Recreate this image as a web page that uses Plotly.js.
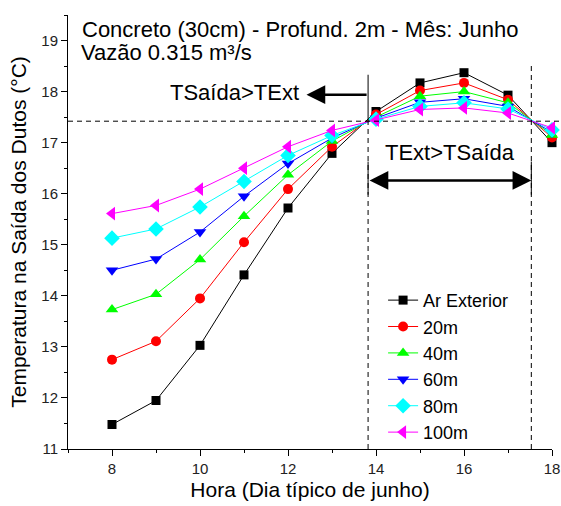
<!DOCTYPE html>
<html>
<head>
<meta charset="utf-8">
<script src="https://cdn.plot.ly/plotly-3.0.1.min.js"></script>
<style>html,body{margin:0;padding:0;background:#fff}#chart{width:561px;height:506px}</style>
</head>
<body>
<div id="chart"></div>
<script>
var hours = [8, 9, 10, 11, 12, 13, 14, 15, 16, 17, 18];
var seriesNames = ["Ar Exterior", "20m", "40m", "60m", "80m", "100m"];
var arExterior = [11.48, 11.95, 13.03, 14.41, 15.72, 16.79, 17.61, 18.17, 18.37, 17.93, 17.00];
var t20m  = [12.75, 13.11, 13.95, 15.05, 16.09, 16.92, 17.55, 18.02, 18.17, 17.84, 17.10];
var t40m  = [13.73, 14.03, 14.71, 15.56, 16.37, 17.03, 17.50, 17.91, 18.00, 17.78, 17.15];
var t60m  = [14.50, 14.72, 15.25, 15.95, 16.59, 17.09, 17.48, 17.79, 17.86, 17.71, 17.20];
var t80m  = [15.13, 15.31, 15.74, 16.24, 16.75, 17.14, 17.46, 17.71, 17.78, 17.66, 17.25];
var t100m = [15.61, 15.77, 16.09, 16.50, 16.92, 17.24, 17.44, 17.65, 17.68, 17.58, 17.29];
var allSeries = [arExterior, t20m, t40m, t60m, t80m, t100m];
var colors = ["#000000", "#ff0000", "#00ff00", "#0000ff", "#00ffff", "#ff00ff"];
var symbols = ["square", "circle", "triangle-up", "triangle-down", "diamond", "triangle-left"];
var sizes = [9, 10, 11, 11, 12, 12];

var xTickVals = [8, 10, 12, 14, 16, 18];
var yTickVals = [11, 12, 13, 14, 15, 16, 17, 18, 19];

var titleLine1 = "Concreto (30cm) - Profund. 2m - Mês: Junho";
var titleLine2 = "Vazão 0.315 m³/s";

// reference lines / regions (hours, °C)
var crossTemp = 17.42;
var crossHourStart = 13.82;
var crossHourEnd = 17.53;

var traces = allSeries.map(function (vals, i) {
  return {
    x: hours, y: vals, name: seriesNames[i], type: "scatter", mode: "lines+markers",
    line: {color: colors[i], width: 1},
    marker: {symbol: symbols[i], size: sizes[i], color: colors[i], line: {width: 0}},
    cliponaxis: false
  };
});

var FONT = "Liberation Sans, Arial, sans-serif";
var DASH = "5px,4px";

var layout = {
  width: 561, height: 506,
  margin: {l: 68, r: 9, t: 15, b: 57},
  paper_bgcolor: "#ffffff", plot_bgcolor: "#ffffff",
  font: {family: FONT, color: "#000"},
  showlegend: true,
  title: {
    text: titleLine1,
    x: 82 / 561, xanchor: "left", xref: "container",
    y: 1 - 29 / 506, yanchor: "middle", yref: "container",
    font: {size: 22, family: FONT, color: "#000"}
  },
  xaxis: {
    range: [7, 18], tickvals: xTickVals, ticktext: xTickVals.map(String),
    ticks: "outside", ticklen: 6, tickcolor: "#000", tickwidth: 1,
    minor: {dtick: 1, tick0: 7, ticks: "outside", ticklen: 3, tickcolor: "#000"},
    showline: true, linecolor: "#000", linewidth: 1, showgrid: false, zeroline: false,
    tickfont: {size: 15, color: "#222", family: FONT},
    title: {text: "Hora (Dia típico de junho)", font: {size: 21, family: FONT, color: "#000"}, standoff: 6}
  },
  yaxis: {
    range: [11, 19.5], tickvals: yTickVals, ticktext: yTickVals.map(String),
    ticks: "outside", ticklen: 6, tickcolor: "#000", tickwidth: 1,
    minor: {dtick: 0.5, tick0: 11, ticks: "outside", ticklen: 3, tickcolor: "#000"},
    showline: true, linecolor: "#000", linewidth: 1, showgrid: false, zeroline: false,
    tickfont: {size: 15, color: "#222", family: FONT},
    title: {text: "Temperatura na Saída dos Dutos (°C)", font: {size: 21, family: FONT, color: "#000"}, standoff: 8}
  },
  legend: {
    x: 0.651, y: 0.385, xanchor: "left", yanchor: "top",
    bgcolor: "rgba(0,0,0,0)", borderwidth: 0,
    font: {size: 18, family: FONT, color: "#000"},
    itemwidth: 30, tracegroupgap: 0
  },
  shapes: [
    {type: "line", xref: "paper", yref: "y", x0: 0, x1: 1.017, y0: crossTemp, y1: crossTemp,
     line: {color: "#000", width: 1, dash: DASH}},
    {type: "line", xref: "x", yref: "y", x0: crossHourStart, x1: crossHourStart, y0: 11, y1: crossTemp,
     line: {color: "#000", width: 1, dash: DASH}},
    {type: "line", xref: "x", yref: "y", x0: crossHourStart, x1: crossHourStart, y0: crossTemp, y1: 18.33,
     line: {color: "#000", width: 1}},
    {type: "line", xref: "x", yref: "y", x0: crossHourEnd, x1: crossHourEnd, y0: 11, y1: 18.53,
     line: {color: "#000", width: 1, dash: DASH}},
    {type: "line", xref: "x", yref: "y", x0: crossHourStart, x1: crossHourStart, y0: 15.98, y1: 16.63,
     line: {color: "#000", width: 1}},
    {type: "line", xref: "x", yref: "y", x0: crossHourEnd, x1: crossHourEnd, y0: 15.98, y1: 16.63,
     line: {color: "#000", width: 1}}
  ],
  annotations: [
    {xref: "paper", yref: "paper", x: (79 - 68) / 484, y: (449 - 52) / 434, xanchor: "left", yanchor: "middle",
     text: titleLine2, showarrow: false, font: {size: 22, family: FONT, color: "#000"}},
    {xref: "x", yref: "y", axref: "x", ayref: "y", x: 12.42, y: 17.94, ax: crossHourStart, ay: 17.94,
     text: "", showarrow: true, arrowhead: 2, arrowsize: 1.5, arrowwidth: 2.5, arrowcolor: "#000"},
    {xref: "x", yref: "y", x: 10.79, y: 17.98, text: "TSaída>TExt", showarrow: false,
     font: {size: 22, family: FONT, color: "#000"}},
    {xref: "x", yref: "y", axref: "x", ayref: "y", x: crossHourEnd, y: 16.26, ax: crossHourStart, ay: 16.26,
     text: "", showarrow: true, arrowhead: 2, startarrowhead: 2, arrowside: "end+start",
     arrowsize: 1.5, startarrowsize: 1.5, arrowwidth: 2.5, arrowcolor: "#000"},
    {xref: "x", yref: "y", x: 15.68, y: 16.8, text: "TExt>TSaída", showarrow: false,
     font: {size: 22, family: FONT, color: "#000"}}
  ]
};

Plotly.newPlot("chart", traces, layout, {staticPlot: true, displayModeBar: false});
</script>
</body>
</html>
